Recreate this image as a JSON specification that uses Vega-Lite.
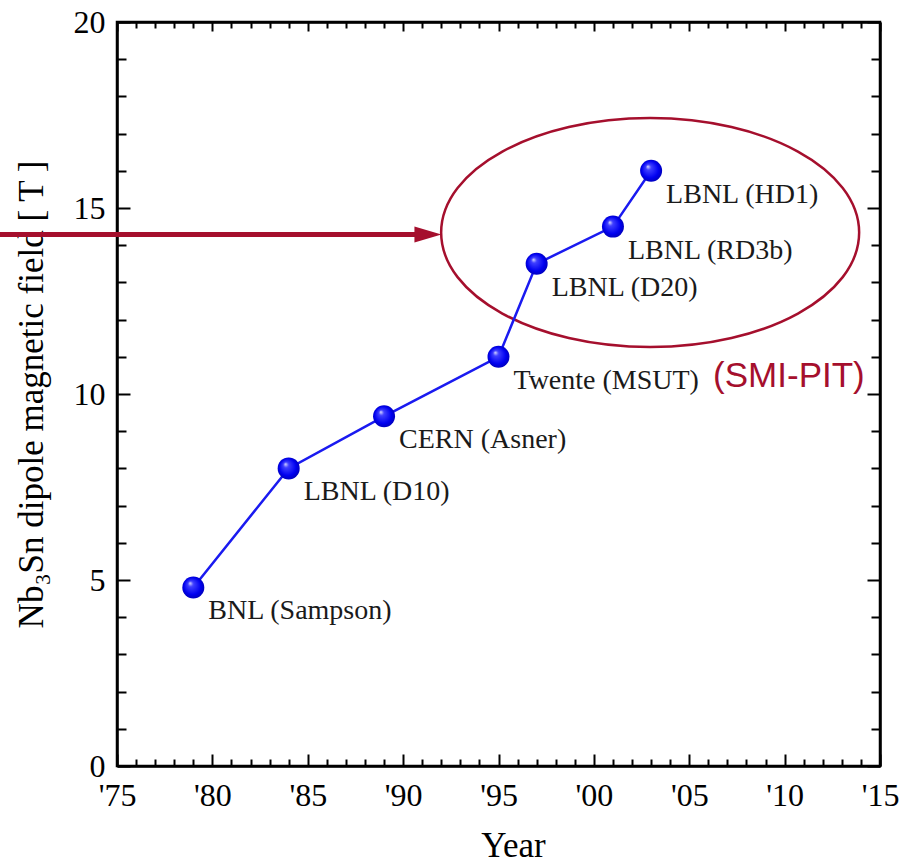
{
  "$schema": "https://vega.github.io/schema/vega-lite/v6.json",
  "width": 763,
  "height": 744,
  "autosize": {"type": "none"},
  "padding": {"left": 117, "top": 22, "right": 31, "bottom": 98},
  "background": "white",
  "config": {
    "view": {"stroke": "black", "strokeWidth": 2.5},
    "axis": {
      "grid": false,
      "domainColor": "black",
      "domainWidth": 2.5,
      "tickColor": "black",
      "tickWidth": 2,
      "labelFont": "Liberation Serif",
      "labelFontSize": 32,
      "labelColor": "black",
      "labelOverlap": false,
      "labelFlush": false,
      "titleFont": "Liberation Serif",
      "titleFontWeight": "normal",
      "titleColor": "black"
    }
  },
  "datasets": {
    "magnets": [
      {"year": 1979, "field": 4.8, "name": "BNL (Sampson)"},
      {"year": 1984, "field": 8.0, "name": "LBNL (D10)"},
      {"year": 1989, "field": 9.4, "name": "CERN (Asner)"},
      {"year": 1995, "field": 11.0, "name": "Twente (MSUT)"},
      {"year": 1997, "field": 13.5, "name": "LBNL (D20)"},
      {"year": 2001, "field": 14.5, "name": "LBNL (RD3b)"},
      {"year": 2003, "field": 16.0, "name": "LBNL (HD1)"}
    ],
    "note": [{"year": 2006.25, "field": 10.19, "text": "(SMI-PIT)"}],
    "ring": [{"year": 2002.95, "field": 14.34}],
    "arrow": [{"year": 1968.86, "year2": 1990.88, "field": 14.29}],
    "arrowhead": [{"year": 1991.3, "field": 14.29}]
  },
  "resolve": {"axis": {"x": "independent", "y": "independent"}},
  "layer": [
    {
      "data": {"name": "ring"},
      "mark": {"type": "point", "shape": "M-1,0 A1,0.548 0 1,1 1,0 A1,0.548 0 1,1 -1,0 Z", "size": 174724, "filled": false, "stroke": "#a50f2d", "strokeWidth": 2.5, "opacity": 1},
      "encoding": {
        "x": {"field": "year", "type": "quantitative", "scale": {"domain": [1975, 2015], "nice": false, "zero": false}, "axis": null},
        "y": {"field": "field", "type": "quantitative", "scale": {"domain": [0, 20], "nice": false}, "axis": null}
      }
    },
    {
      "data": {"name": "arrow"},
      "mark": {"type": "rule", "color": "#a50f2d", "strokeWidth": 5},
      "encoding": {
        "x": {"field": "year", "type": "quantitative", "scale": {"domain": [1975, 2015], "nice": false, "zero": false}, "axis": null},
        "x2": {"field": "year2"},
        "y": {"field": "field", "type": "quantitative", "scale": {"domain": [0, 20], "nice": false}, "axis": null}
      }
    },
    {
      "data": {"name": "arrowhead"},
      "mark": {"type": "point", "shape": "M-1,-0.593 L1,0 L-1,0.593 Z", "size": 729, "filled": true, "color": "#a50f2d", "opacity": 1},
      "encoding": {
        "x": {"field": "year", "type": "quantitative", "scale": {"domain": [1975, 2015], "nice": false, "zero": false}, "axis": null},
        "y": {"field": "field", "type": "quantitative", "scale": {"domain": [0, 20], "nice": false}, "axis": null}
      }
    },
    {
      "data": {"name": "magnets"},
      "mark": {"type": "line", "color": "#1a1af0", "strokeWidth": 2.5},
      "encoding": {
        "x": {
          "field": "year", "type": "quantitative",
          "scale": {"domain": [1975, 2015], "nice": false, "zero": false},
          "axis": {
            "orient": "bottom",
            "values": [1975,1976,1977,1978,1979,1980,1981,1982,1983,1984,1985,1986,1987,1988,1989,1990,1991,1992,1993,1994,1995,1996,1997,1998,1999,2000,2001,2002,2003,2004,2005,2006,2007,2008,2009,2010,2011,2012,2013,2014,2015],
            "labelExpr": "datum.value % 5 === 0 ? \"'\" + format(datum.value % 100, '02d') : ''",
            "tickSize": {"condition": {"test": "datum.value % 5 === 0", "value": -12}, "value": -7},
            "labelPadding": 26,
            "title": "Year",
            "titleFontSize": 35,
            "titleX": 396,
            "titleY": 90,
            "titleBaseline": "alphabetic"
          }
        },
        "y": {
          "field": "field", "type": "quantitative",
          "scale": {"domain": [0, 20], "nice": false},
          "axis": {
            "orient": "left",
            "values": [0,1,2,3,4,5,6,7,8,9,10,11,12,13,14,15,16,17,18,19,20],
            "labelExpr": "datum.value % 5 === 0 ? datum.label : ''",
            "tickSize": {"condition": {"test": "datum.value % 5 === 0", "value": -13}, "value": -9},
            "labelPadding": 25,
            "title": "Nb₃Sn dipole magnetic field [ T ]",
            "titleFontSize": 35,
            "titleX": -75,
            "titleBaseline": "alphabetic"
          }
        }
      }
    },
    {
      "data": {"name": "magnets"},
      "mark": {
        "type": "point", "filled": true, "size": 484, "opacity": 1, "shape": "circle",
        "fill": {"gradient": "radial", "x1": 0.35, "y1": 0.3, "r1": 0, "x2": 0.5, "y2": 0.5, "r2": 0.55,
          "stops": [{"offset": 0, "color": "#e0e0ff"}, {"offset": 0.22, "color": "#4040ff"}, {"offset": 0.7, "color": "#0000f0"}, {"offset": 1, "color": "#0000b0"}]},
        "strokeWidth": 0
      },
      "encoding": {
        "x": {
          "field": "year", "type": "quantitative",
          "scale": {"domain": [1975, 2015], "nice": false, "zero": false},
          "axis": {
            "orient": "top",
            "values": [1975,1976,1977,1978,1979,1980,1981,1982,1983,1984,1985,1986,1987,1988,1989,1990,1991,1992,1993,1994,1995,1996,1997,1998,1999,2000,2001,2002,2003,2004,2005,2006,2007,2008,2009,2010,2011,2012,2013,2014,2015],
            "labels": false,
            "tickSize": {"condition": {"test": "datum.value % 5 === 0", "value": -9}, "value": -6},
            "title": null
          }
        },
        "y": {
          "field": "field", "type": "quantitative",
          "scale": {"domain": [0, 20], "nice": false},
          "axis": {
            "orient": "right",
            "values": [0,1,2,3,4,5,6,7,8,9,10,11,12,13,14,15,16,17,18,19,20],
            "labels": false,
            "tickSize": {"condition": {"test": "datum.value % 5 === 0", "value": -13}, "value": -9},
            "title": null
          }
        }
      }
    },
    {
      "data": {"name": "magnets"},
      "mark": {"type": "text", "align": "left", "baseline": "alphabetic", "dx": 15, "dy": 32, "font": "Liberation Serif", "fontSize": 28, "color": "#1a1a1a"},
      "encoding": {
        "x": {"field": "year", "type": "quantitative", "scale": {"domain": [1975, 2015], "nice": false, "zero": false}, "axis": null},
        "y": {"field": "field", "type": "quantitative", "scale": {"domain": [0, 20], "nice": false}, "axis": null},
        "text": {"field": "name"}
      }
    },
    {
      "data": {"name": "note"},
      "mark": {"type": "text", "align": "left", "baseline": "alphabetic", "font": "Liberation Sans", "fontSize": 35, "color": "#a50f2d"},
      "encoding": {
        "x": {"field": "year", "type": "quantitative", "scale": {"domain": [1975, 2015], "nice": false, "zero": false}, "axis": null},
        "y": {"field": "field", "type": "quantitative", "scale": {"domain": [0, 20], "nice": false}, "axis": null},
        "text": {"field": "text"}
      }
    }
  ]
}
